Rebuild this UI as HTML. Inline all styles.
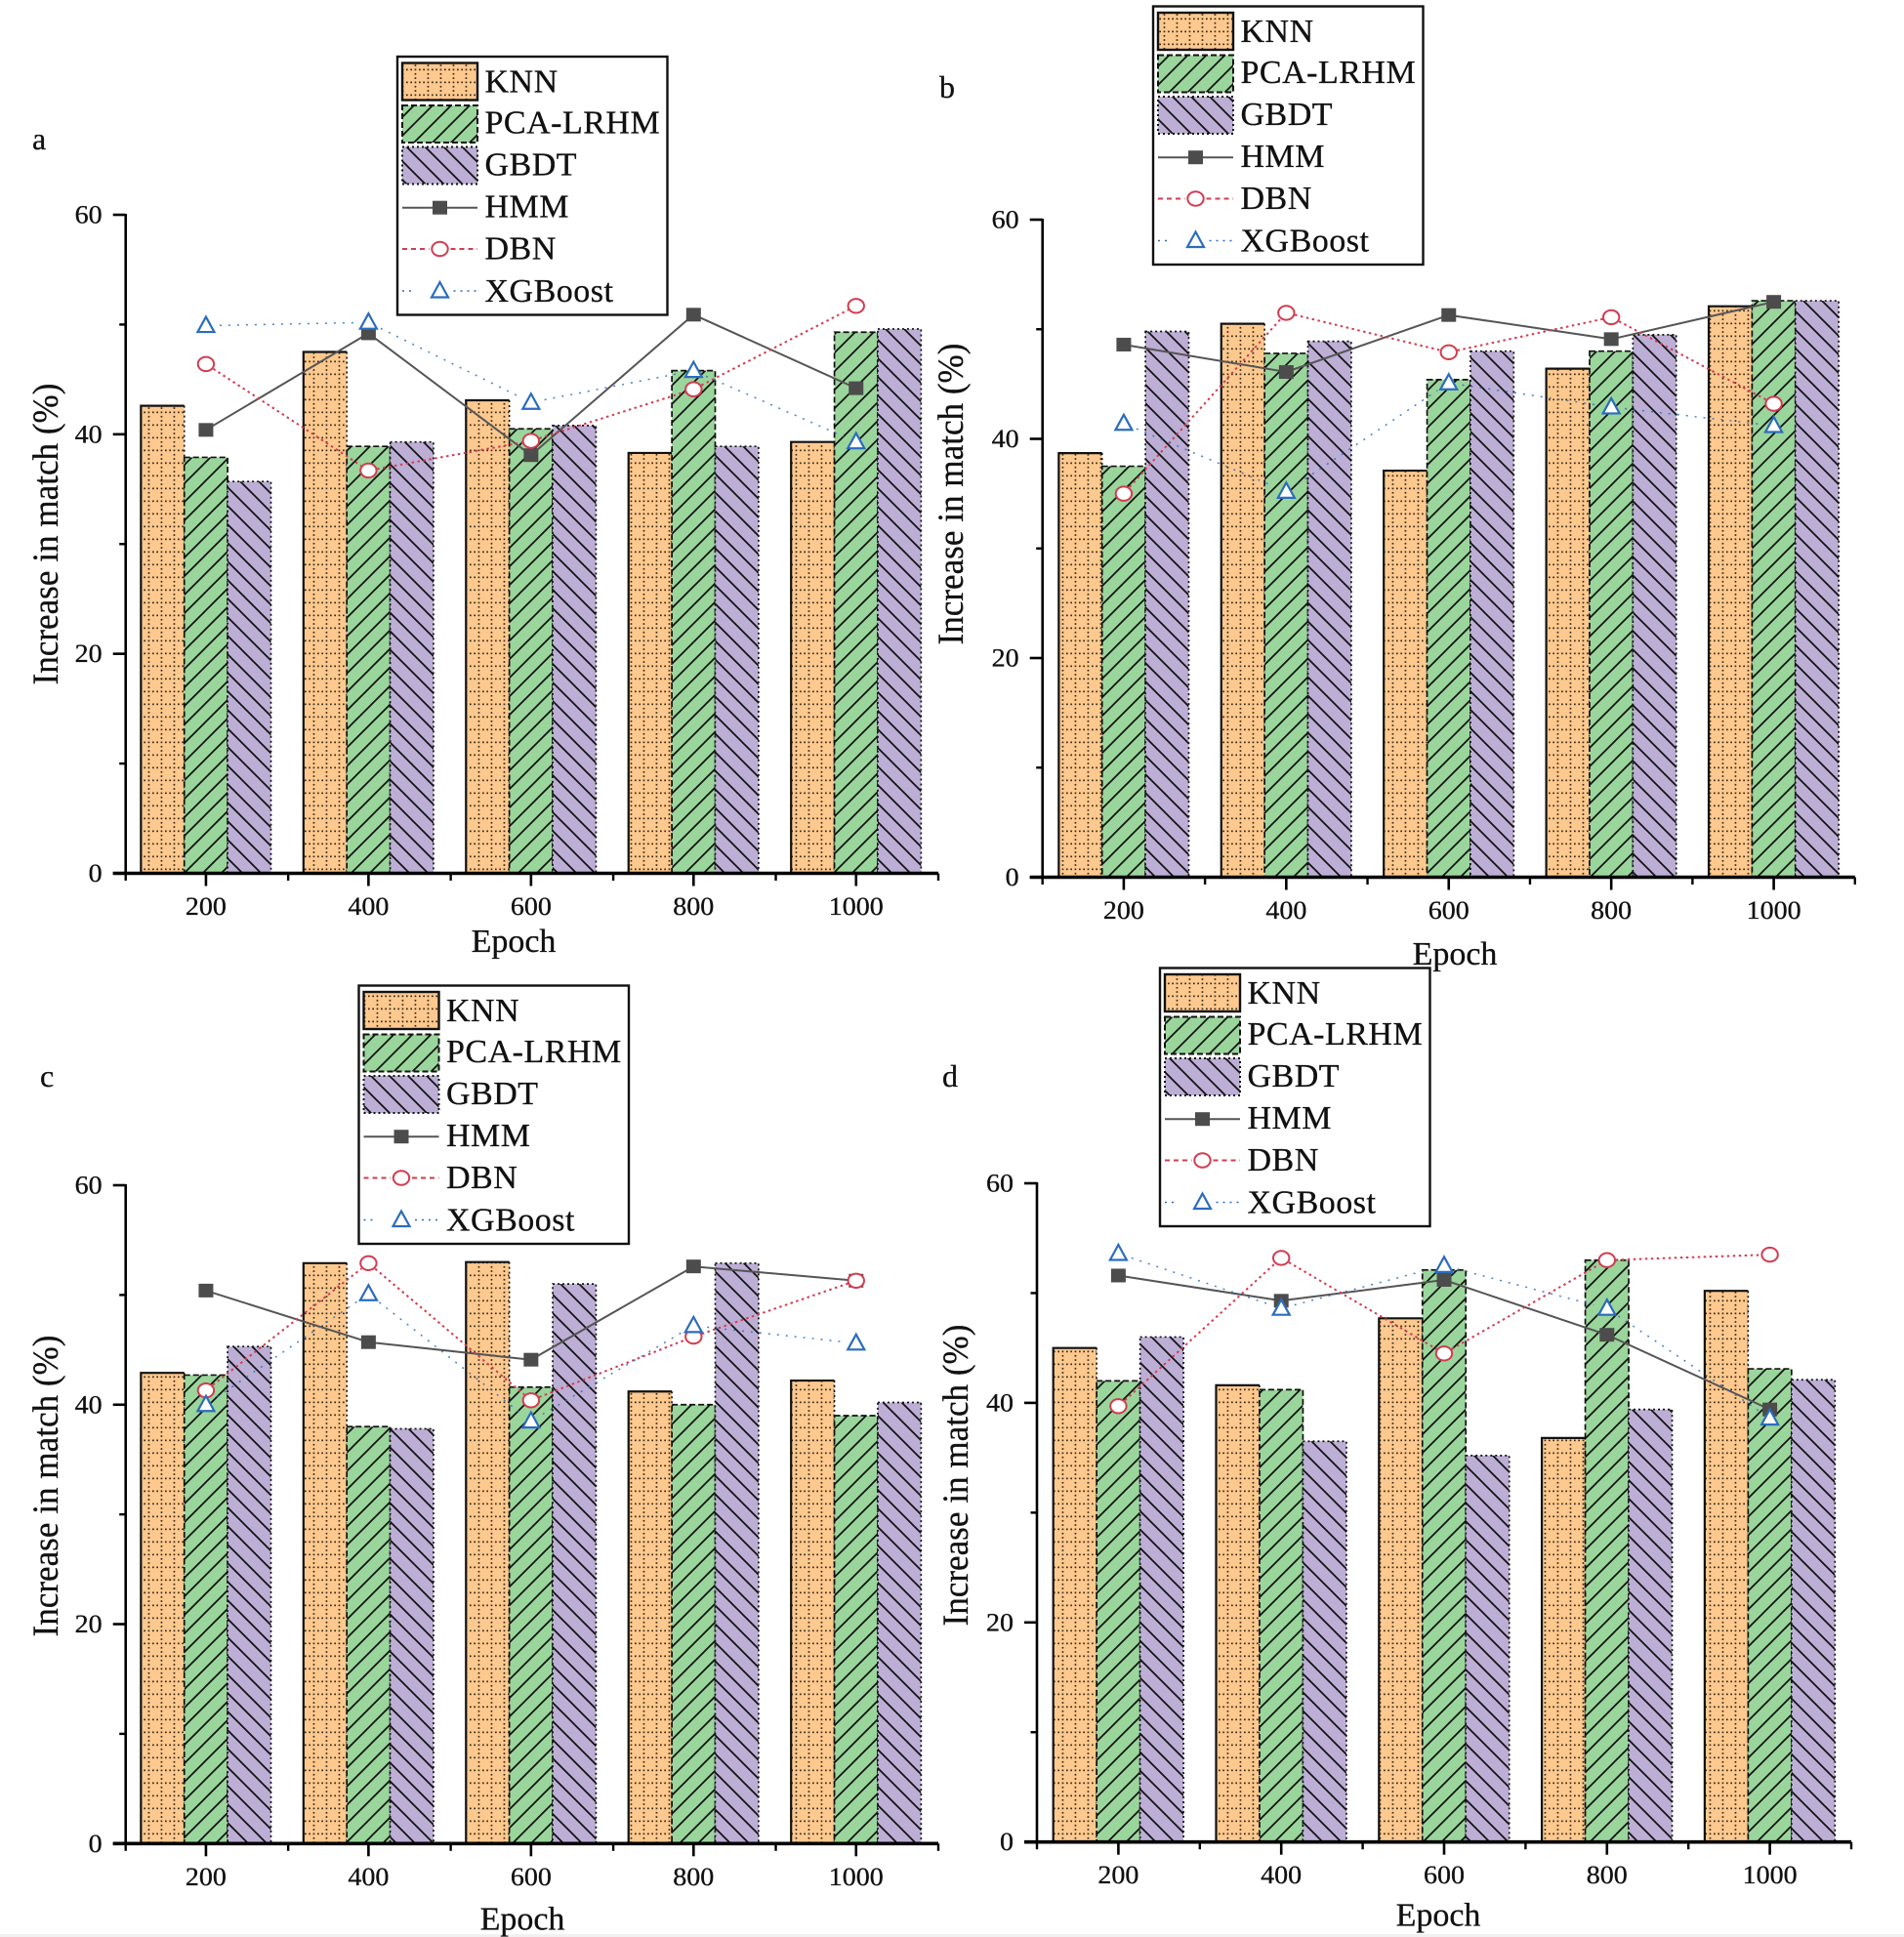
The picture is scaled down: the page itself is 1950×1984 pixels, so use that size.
<!DOCTYPE html>
<html lang="en">
<head>
<meta charset="utf-8">
<title>Increase in match by epoch</title>
<style>
html,body{margin:0;padding:0;background:#fff;}
svg{display:block;}
text{font-family:"Liberation Serif",serif;fill:#111;stroke:#111;stroke-width:0.3px;}
</style>
</head>
<body>
<svg id="figure" xmlns="http://www.w3.org/2000/svg" width="1950" height="1984" viewBox="0 0 1950 1984">
<defs>
<pattern id="pat-knn" patternUnits="userSpaceOnUse" width="13" height="13">
<rect width="13" height="13" fill="#fdc98f"/>
<rect x="0" y="5.5" width="1.7" height="1.7" fill="#3a2a18"/>
<rect x="4.3" y="5.5" width="1.7" height="1.7" fill="#3a2a18"/>
<rect x="8.6" y="5.5" width="1.7" height="1.7" fill="#3a2a18"/>
<rect x="8.6" y="1.2" width="1.7" height="1.7" fill="#3a2a18"/>
<rect x="8.6" y="9.9" width="1.7" height="1.7" fill="#3a2a18"/>
</pattern>
<pattern id="pat-pca" patternUnits="userSpaceOnUse" width="19" height="19">
<rect width="19" height="19" fill="#9ad59b"/>
<path d="M-2 21L21 -2M-2 2L2 -2M17 21L21 17" stroke="#111" stroke-width="1.7" fill="none"/>
</pattern>
<pattern id="pat-gbdt" patternUnits="userSpaceOnUse" width="19" height="19">
<rect width="19" height="19" fill="#bcaed5"/>
<path d="M-2 -2L21 21M17 -2L21 2M-2 17L2 21" stroke="#111" stroke-width="1.7" fill="none"/>
</pattern>
</defs>
<rect x="0" y="0" width="1950" height="1984" fill="#ffffff"/>
<rect x="0" y="1981" width="1950" height="3" fill="#f1f1f1"/>
</svg>
<script>
// Shared categories and ticks
const categories = [200, 400, 600, 800, 1000];
const yMajorTicks = [0, 20, 40, 60];
const yMinorTicks = [10, 30, 50];
const xMinorTicks = [100, 300, 500, 700, 900, 1100];
const seriesNames = ["KNN", "PCA-LRHM", "GBDT", "HMM", "DBN", "XGBoost"];
const xAxisTitle = "Epoch";
const yAxisTitle = "Increase in match (%)";

// Panel a
const aKNN  = [42.6, 47.5, 43.1, 38.3, 39.3];
const aPCA  = [37.9, 38.9, 40.5, 45.8, 49.3];
const aGBDT = [35.7, 39.3, 40.8, 38.9, 49.6];
const aHMM  = [40.4, 49.2, 38.1, 50.9, 44.2];
const aDBN  = [46.4, 36.7, 39.4, 44.1, 51.7];
const aXGB  = [49.9, 50.2, 42.9, 45.8, 39.3];

// Panel b
const bKNN  = [38.7, 50.5, 37.1, 46.4, 52.1];
const bPCA  = [37.5, 47.8, 45.4, 48.0, 52.6];
const bGBDT = [49.8, 48.9, 48.0, 49.5, 52.6];
const bHMM  = [48.6, 46.1, 51.3, 49.1, 52.5];
const bDBN  = [35.0, 51.5, 47.9, 51.1, 43.2];
const bXGB  = [41.4, 35.2, 45.1, 42.9, 41.2];

// Panel c
const cKNN  = [42.9, 52.9, 53.0, 41.2, 42.2];
const cPCA  = [42.7, 38.0, 41.6, 40.0, 39.0];
const cGBDT = [45.3, 37.8, 51.0, 52.9, 40.2];
const cHMM  = [50.4, 45.7, 44.1, 52.6, 51.3];
const cDBN  = [41.3, 52.9, 40.4, 46.2, 51.3];
const cXGB  = [40.0, 50.1, 38.5, 47.2, 45.6];

// Panel d
const dKNN  = [45.0, 41.6, 47.7, 36.8, 50.2];
const dPCA  = [42.0, 41.2, 52.1, 53.0, 43.1];
const dGBDT = [46.0, 36.5, 35.2, 39.4, 42.1];
const dHMM  = [51.6, 49.3, 51.2, 46.2, 39.4];
const dDBN  = [39.7, 53.2, 44.5, 53.0, 53.5];
const dXGB  = [53.6, 48.6, 52.5, 48.6, 38.6];

const SVG_NS = "http://www.w3.org/2000/svg";
const root = document.getElementById("figure");
const COLOR_HMM = "#4c4c4c";
const COLOR_DBN = "#d23c50";
const COLOR_XGB = "#2b6cbd";

function make(tag, attrs, parent, label) {
  const node = document.createElementNS(SVG_NS, tag);
  for (const key in attrs) node.setAttribute(key, attrs[key]);
  
  
  parent.appendChild(node);
  return node;
}

function addText(parent, label, str, attrs) {
  const node = make("text", attrs, parent, label);
  node.textContent = str;
  return node;
}

function square(parent, label, cx, cy) {
  make("rect", {x: cx - 7.5, y: cy - 7, width: 15, height: 14, fill: COLOR_HMM}, parent, label);
}
function circle(parent, label, cx, cy) {
  make("ellipse", {cx: cx, cy: cy, rx: 8.2, ry: 7.2, fill: "#fff", stroke: COLOR_DBN, "stroke-width": 2}, parent, label);
}
function triangle(parent, label, cx, cy) {
  make("polygon", {points: (cx) + "," + (cy - 9) + " " + (cx + 8.5) + "," + (cy + 6.5) + " " + (cx - 8.5) + "," + (cy + 6.5), fill: "#fff", stroke: COLOR_XGB, "stroke-width": 2.2}, parent, label);
}

function segmentsPath(points, gap) {
  let d = "";
  for (let i = 0; i < points.length - 1; i++) {
    const p = points[i], q = points[i + 1];
    const dx = q[0] - p[0], dy = q[1] - p[1];
    const len = Math.sqrt(dx * dx + dy * dy);
    if (len <= gap * 2) continue;
    const ux = dx / len, uy = dy / len;
    d += "M" + (p[0] + ux * gap).toFixed(1) + " " + (p[1] + uy * gap).toFixed(1);
    d += "L" + (q[0] - ux * gap).toFixed(1) + " " + (q[1] - uy * gap).toFixed(1);
  }
  return d;
}

function drawLegend(parent, lx, ly) {
  const g = make("g", {}, parent, "legend");
  make("rect", {x: lx, y: ly, width: 276.5, height: 264.5, fill: "#fff", stroke: "#111", "stroke-width": 2.4}, g, "legend-box");
  const swX = lx + 5, swW = 77, txtX = lx + 89.5;

  make("rect", {x: swX, y: ly + 6.5, width: swW, height: 38, fill: "url(#pat-knn)", stroke: "#111", "stroke-width": 2.4}, g, "legend-swatch-knn");
  make("rect", {x: swX, y: ly + 50, width: swW, height: 38, fill: "url(#pat-pca)", stroke: "#111", "stroke-width": 2, "stroke-dasharray": "6 3"}, g, "legend-swatch-pca-lrhm");
  make("rect", {x: swX, y: ly + 92.5, width: swW, height: 38, fill: "url(#pat-gbdt)", stroke: "#111", "stroke-width": 2, "stroke-dasharray": "2 3"}, g, "legend-swatch-gbdt");

  const midX = swX + swW / 2;
  make("line", {x1: swX, x2: swX + swW, y1: ly + 154.7, y2: ly + 154.7, stroke: "#555", "stroke-width": 2}, g, "legend-line-hmm");
  square(g, "legend-marker-hmm", midX, ly + 154.7);
  make("path", {d: "M" + swX + " " + (ly + 197) + "H" + (midX - 11) + "M" + (midX + 11) + " " + (ly + 197) + "H" + (swX + swW), stroke: COLOR_DBN, "stroke-width": 2, "stroke-dasharray": "5 4", fill: "none"}, g, "legend-line-dbn");
  circle(g, "legend-marker-dbn", midX, ly + 197);
  make("path", {d: "M" + swX + " " + (ly + 240) + "H" + (swX + 14) + "M" + (midX + 14) + " " + (ly + 240) + "H" + (swX + swW), stroke: COLOR_XGB, "stroke-width": 1.5, "stroke-dasharray": "2 5", fill: "none"}, g, "legend-line-xgboost");
  triangle(g, "legend-marker-xgboost", midX, ly + 240);

  const baselines = [36.5, 78.5, 121.5, 164.5, 207.5, 251];
  for (let i = 0; i < seriesNames.length; i++) {
    addText(g, "legend-label", seriesNames[i], {x: txtX, y: ly + baselines[i], "font-size": 34, "letter-spacing": 0.5});
  }
}

function drawPanel(cfg) {
  const g = make("g", {}, root, "panel-" + cfg.id);
  const xScale = v => cfg.x0 + cfg.shift + (v - 100) / 1000 * (cfg.x1 - cfg.x0);
  const yScale = v => cfg.y0 + (cfg.y60 - cfg.y0) * v / 60;
  const barUnits = 53.33;

  // Bars
  const bars = make("g", {}, g, "bars");
  categories.forEach((cat, i) => {
    const knnX = xScale(cat - barUnits * 1.5);
    const pcaX = xScale(cat - barUnits * 0.5);
    const gbdtX = xScale(cat + barUnits * 0.5);
    const w = xScale(cat + barUnits * 0.5) - pcaX;

    const ky = yScale(cfg.knn[i]);
    make("rect", {x: knnX, y: ky, width: w, height: cfg.y0 - ky, fill: "url(#pat-knn)"}, bars, "bar-knn-" + cat);
    make("path", {d: "M" + knnX + " " + cfg.y0 + "V" + ky + "H" + (knnX + w), fill: "none", stroke: "#111", "stroke-width": 2.2}, bars, "bar-knn-border-" + cat);
    make("path", {d: "M" + (knnX + w) + " " + ky + "V" + cfg.y0, fill: "none", stroke: "#111", "stroke-width": 1.6, "stroke-dasharray": "2 3"}, bars, "bar-knn-edge-" + cat);

    const py = yScale(cfg.pca[i]);
    make("rect", {x: pcaX, y: py, width: w, height: cfg.y0 - py, fill: "url(#pat-pca)", stroke: "#111", "stroke-width": 1.7, "stroke-dasharray": "6 3"}, bars, "bar-pca-lrhm-" + cat);

    const gy = yScale(cfg.gbdt[i]);
    make("rect", {x: gbdtX, y: gy, width: w, height: cfg.y0 - gy, fill: "url(#pat-gbdt)", stroke: "#111", "stroke-width": 1.7, "stroke-dasharray": "2 3"}, bars, "bar-gbdt-" + cat);
  });

  // Axes
  const axes = make("g", {}, g, "axes");
  make("line", {x1: cfg.x0, x2: cfg.x0, y1: cfg.y60 - 1, y2: cfg.y0, stroke: "#000", "stroke-width": 2.6}, axes, "y-axis-line");
  make("line", {x1: cfg.x0 - 13, x2: cfg.x1, y1: cfg.y0, y2: cfg.y0, stroke: "#000", "stroke-width": 3.6}, axes, "x-axis-line");
  yMajorTicks.forEach(v => {
    make("line", {x1: cfg.x0 - 13, x2: cfg.x0, y1: yScale(v), y2: yScale(v), stroke: "#000", "stroke-width": 2.6}, axes, "y-tick-" + v);
    addText(axes, "y-tick-label-" + v, String(v), {x: cfg.x0 - 24, y: yScale(v) + 8.5, "font-size": 26, "text-anchor": "end", textLength: String(v).length * 14, lengthAdjust: "spacingAndGlyphs"});
  });
  yMinorTicks.forEach(v => {
    make("line", {x1: cfg.x0 - 6.5, x2: cfg.x0, y1: yScale(v), y2: yScale(v), stroke: "#000", "stroke-width": 2.4}, axes, "y-minor-tick-" + v);
  });
  categories.forEach(cat => {
    make("line", {x1: xScale(cat), x2: xScale(cat), y1: cfg.y0, y2: cfg.y0 + 13, stroke: "#000", "stroke-width": 2.6}, axes, "x-tick-" + cat);
    addText(axes, "x-tick-label-" + cat, String(cat), {x: xScale(cat), y: cfg.y0 + 42.5, "font-size": 26, "text-anchor": "middle", textLength: String(cat).length * 14, lengthAdjust: "spacingAndGlyphs"});
  });
  xMinorTicks.forEach(v => {
    make("line", {x1: xScale(v) - cfg.shift, x2: xScale(v) - cfg.shift, y1: cfg.y0, y2: cfg.y0 + 7.5, stroke: "#000", "stroke-width": 2.4}, axes, "x-minor-tick-" + v);
  });

  addText(axes, "x-axis-title", xAxisTitle, {x: cfg.xTitleX, y: cfg.xTitleY, "font-size": 34, "text-anchor": "middle"});
  addText(axes, "y-axis-title", yAxisTitle, {x: 0, y: 0, "font-size": 37, "text-anchor": "middle", textLength: 309, lengthAdjust: "spacingAndGlyphs", transform: "translate(" + cfg.yTitleX + " " + cfg.yTitleY + ") rotate(-90)"});
  addText(g, "panel-label-" + cfg.id, cfg.id, {x: cfg.labelX, y: cfg.labelY, "font-size": 32});

  // Lines
  const toPoints = arr => arr.map((v, i) => [xScale(categories[i]), yScale(v)]);
  const hmmPts = toPoints(cfg.hmm), dbnPts = toPoints(cfg.dbn), xgbPts = toPoints(cfg.xgb);
  make("path", {d: segmentsPath(hmmPts, 0), fill: "none", stroke: "#555", "stroke-width": 2}, g, "line-hmm");
  make("path", {d: segmentsPath(dbnPts, 9), fill: "none", stroke: COLOR_DBN, "stroke-width": 2, "stroke-dasharray": "2.5 3.5"}, g, "line-dbn");
  make("path", {d: segmentsPath(xgbPts, 14), fill: "none", stroke: COLOR_XGB, "stroke-width": 1.5, "stroke-dasharray": "2 7", "stroke-opacity": 0.85}, g, "line-xgboost");
  hmmPts.forEach((p, i) => square(g, "point-hmm-" + categories[i], p[0], p[1]));
  dbnPts.forEach((p, i) => circle(g, "point-dbn-" + categories[i], p[0], p[1]));
  xgbPts.forEach((p, i) => triangle(g, "point-xgboost-" + categories[i], p[0], p[1]));

  drawLegend(g, cfg.legendX, cfg.legendY);
}

drawPanel({id: "a", shift: -1, x0: 128.7, x1: 961, y60: 220, y0: 894.5, knn: aKNN, pca: aPCA, gbdt: aGBDT, hmm: aHMM, dbn: aDBN, xgb: aXGB, legendX: 407, legendY: 58, xTitleX: 526, xTitleY: 975, yTitleX: 59, yTitleY: 547, labelX: 33, labelY: 153});
drawPanel({id: "b", shift: 0, x0: 1067.7, x1: 1899.8, y60: 225, y0: 898.5, knn: bKNN, pca: bPCA, gbdt: bGBDT, hmm: bHMM, dbn: bDBN, xgb: bXGB, legendX: 1181, legendY: 6.5, xTitleX: 1490, xTitleY: 988, yTitleX: 986, yTitleY: 506, labelX: 962, labelY: 100});
drawPanel({id: "c", shift: -1, x0: 128.7, x1: 961, y60: 1214, y0: 1888.3, knn: cKNN, pca: cPCA, gbdt: cGBDT, hmm: cHMM, dbn: cDBN, xgb: cXGB, legendX: 367.5, legendY: 1009.5, xTitleX: 535, xTitleY: 1976.5, yTitleX: 59, yTitleY: 1522, labelX: 41, labelY: 1113});
drawPanel({id: "d", shift: 0, x0: 1062, x1: 1896, y60: 1212, y0: 1886.7, knn: dKNN, pca: dPCA, gbdt: dGBDT, hmm: dHMM, dbn: dDBN, xgb: dXGB, legendX: 1188, legendY: 991.5, xTitleX: 1473, xTitleY: 1972.5, yTitleX: 991, yTitleY: 1511, labelX: 965, labelY: 1113});
</script>
</body>
</html>
